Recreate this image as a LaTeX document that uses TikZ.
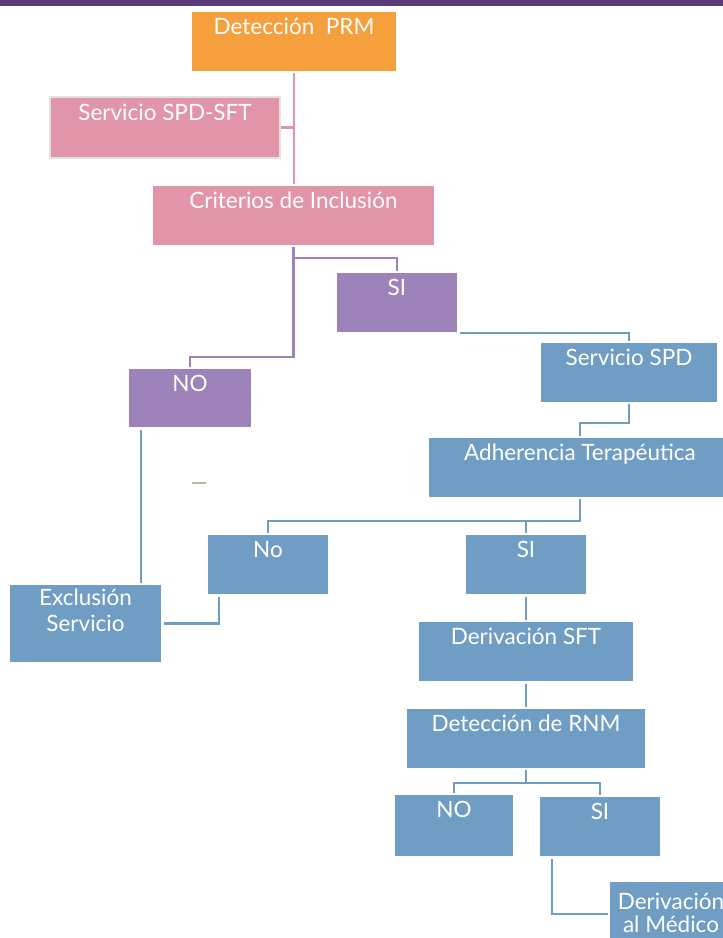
\documentclass[tikz,border=0pt]{standalone}
\usepackage{fontspec}
\setmainfont{Lato}
\usetikzlibrary{calc}
\definecolor{orng}{HTML}{F6A03D}
\definecolor{pnk}{HTML}{E295A8}
\definecolor{prp}{HTML}{9E82BA}
\definecolor{blu}{HTML}{6F9DC3}
\definecolor{barc}{HTML}{5B3B78}
\definecolor{dashc}{HTML}{B8BA9E}
\definecolor{brd}{HTML}{E2E2E2}
\begin{document}
\begin{tikzpicture}[x=1pt,y=-1pt,
  bx/.style n args={4}{rectangle, inner sep=0pt, outer sep=0pt, anchor=north west, fill=#1,
     minimum width=#2pt, text height=#3pt, text depth=#4pt, text=white,
     font=\fontsize{22.5}{25}\selectfont, align=center},
  ln/.style={draw=#1, line width=2.6pt}]
\useasboundingbox (0,0) rectangle (723,938);
\fill[barc] (0,0) rectangle (723,6);
% boxes
\node[bx={orng}{204}{22}{37}] (det) at (192,12) {Detección~ PRM};
\node[bx={pnk}{230}{23}{38}, draw=brd, line width=1.6pt] (spdsft) at (50,97) {Servicio SPD-SFT};
\node[bx={pnk}{281}{22}{37}] (crit) at (153,186) {Criterios de Inclusión};
\node[bx={prp}{120}{22}{37}] (si1) at (337,273) {SI};
\node[bx={prp}{122}{22}{36}] (no1) at (129,369) {NO};
\node[bx={blu}{176}{22}{37}] (spd) at (541,343) {Servicio SPD};
\node[bx={blu}{302}{22}{37}] (adh) at (429,438) {Adherencia Terapéutica};
\node[bx={blu}{120}{22}{37}] (no2) at (208,535) {No};
\node[bx={blu}{120}{22}{37}] (si2) at (466,535) {SI};
\node[bx={blu}{151}{46}{31}, font=\fontsize{22.5}{26}\selectfont] (excl) at (10,585) {Exclusión\\Servicio};
\node[bx={blu}{214}{22}{37}] (dsft) at (419,622) {Derivación SFT};
\node[bx={blu}{238}{22}{37}] (rnm) at (407,709) {Detección de RNM};
\node[bx={blu}{118}{22}{39}] (no3) at (395,795) {NO};
\node[bx={blu}{120}{22}{37}] (si3) at (540,797) {SI};
\node[bx={blu}{122}{50}{14}, font=\fontsize{22.5}{23}\selectfont] (med) at (610,882) {Derivación\\al Médico};
% connectors
\draw[ln=pnk] ($(det.south)+(0,2)$) -- ($(det.south |- crit.north)+(0,-2)$);
\draw[ln=pnk] ($(spdsft.east)+(1,0)$) -- (spdsft.east -| det.south);
\draw[ln=prp] ($(crit.south)+(0,2)$) -- ++(0,11) coordinate (j1) -| ($(si1.north)+(0,-2)$);
\coordinate (j2) at ($(no1.north)+(0,-12)$);
\draw[ln=prp] (j1) |- (j2) -- ($(no1.north)+(0,-2)$);
\draw[ln=blu] ($(si1.south east)+(3,1)$) -| ($(spd.north)+(0,-2)$);
\draw[ln=blu] ($(spd.south)+(0,2)$) -- ++(0,19) -| ($(adh.north)+(0,-2)$);
\draw[ln=blu] ($(adh.south)+(0,2)$) -- ++(0,22) coordinate (j3) -| ($(no2.north)+(0,-2)$);
\draw[ln=blu] (j3 -| si2.north) -- ($(si2.north)+(0,-2)$);
\coordinate (n1s) at ($(no1.south west)+(12,3)$);
\draw[ln=blu] (n1s) -- ($(n1s |- excl.north)+(0,-2)$);
\draw[ln=blu] ($(no2.south west)+(11,3)$) |- ($(excl.east)+(3,0)$);
\draw[ln=blu] ($(si2.south)+(0,3)$) -- ($(dsft.north)+(0,-2)$);
\draw[ln=blu] ($(dsft.south)+(0,3)$) -- ($(rnm.north)+(0,-2)$);
\draw[ln=blu] ($(rnm.south)+(0,2)$) -- ++(0,13) coordinate (j4) -| ($(no3.north)+(0,-2)$);
\draw[ln=blu] (j4) -| ($(si3.north)+(0,-2)$);
\draw[ln=blu] ($(si3.south west)+(12,3)$) |- (med.west -| 608,0);
% small stray dash
\draw[dashc, line width=1.5pt] (192,483) -- (206,483);
\end{tikzpicture}
\end{document}
